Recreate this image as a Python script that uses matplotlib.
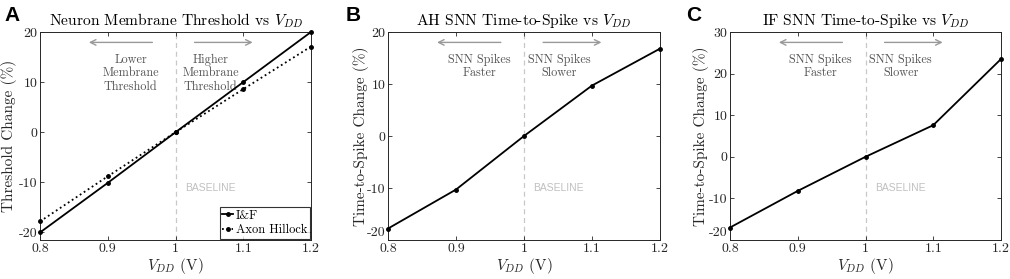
import matplotlib
matplotlib.use("Agg")
import matplotlib.pyplot as plt
from matplotlib.transforms import ScaledTranslation

plt.rcParams['font.family'] = ['cmr10', 'DejaVu Serif']
plt.rcParams['mathtext.fontset'] = 'cm'
plt.rcParams['axes.unicode_minus'] = False
plt.rcParams['axes.formatter.use_mathtext'] = False

vdd = [0.8, 0.9, 1.0, 1.1, 1.2]
thr_if = [-20.0, -10.1, 0.0, 10.0, 20.0]
thr_ah = [-17.8, -8.8, 0.0, 8.6, 17.1]
tts_ah = [-17.8, -10.3, 0.0, 9.7, 16.8]
tts_if = [-17.0, -8.2, 0.0, 7.6, 23.5]

xticks = [0.8, 0.9, 1.0, 1.1, 1.2]
xticklabels = ['0.8', '0.9', '1', '1.1', '1.2']

W, H = 1010, 279
fig = plt.figure(figsize=(W / 100, H / 100), dpi=100)

def make_ax(left_px, width_px):
    return fig.add_axes([left_px / W, (H - 240) / H, width_px / W, 208 / H])

axA = make_ax(40, 271)
axB = make_ax(388, 272)
axC = make_ax(730, 271)

edge = '#262626'
gray = '#999999'

def style(ax, ylim, yticks, title, ylabel, left_text, right_text, lpad, nudge=False):
    ax.set_xlim(0.8, 1.2)
    ax.set_ylim(*ylim)
    ax.set_xticks(xticks)
    ax.set_xticklabels(xticklabels)
    ax.set_yticks(yticks)
    ax.set_yticklabels([str(v) for v in yticks])
    ax.tick_params(direction='in', top=True, right=True, length=3,
                   width=0.6, colors=edge, labelsize=10, pad=2)
    if nudge:
        lab = ax.get_yticklabels()[0]
        lab.set_transform(lab.get_transform() +
                          ScaledTranslation(0, 6 / 72, fig.dpi_scale_trans))
    for s in ax.spines.values():
        s.set_color(edge)
        s.set_linewidth(0.7)
    ax.set_title(title, fontsize=11.2, pad=5)
    ax.set_ylabel(ylabel, fontsize=11, labelpad=lpad, color=edge)
    ax.set_xlabel(r'$V_{DD}$ (V)', fontsize=11, labelpad=1, color=edge)
    ax.axvline(1.0, color='#c8c8c8', linestyle=(0, (4, 3)), linewidth=0.9, zorder=0)
    ax.text(0.535, 0.25, 'BASELINE', transform=ax.transAxes, fontsize=7.5,
            color='#c0c0c0', family='Liberation Sans', ha='left', va='center')
    ax.annotate('', xy=(0.17, 0.95), xytext=(0.425, 0.95), xycoords='axes fraction',
                arrowprops=dict(arrowstyle='->', color=gray, lw=1.0,
                                mutation_scale=10))
    ax.annotate('', xy=(0.795, 0.95), xytext=(0.56, 0.95), xycoords='axes fraction',
                arrowprops=dict(arrowstyle='->', color=gray, lw=1.0,
                                mutation_scale=10))
    ax.text(0.335, 0.895, left_text, transform=ax.transAxes, fontsize=8.8,
            color='#555555', ha='center', va='top', linespacing=1.15)
    ax.text(0.63, 0.895, right_text, transform=ax.transAxes, fontsize=8.8,
            color='#555555', ha='center', va='top', linespacing=1.15)

style(axA, (-21.5, 20), [-20, -10, 0, 10, 20],
      r'Neuron Membrane Threshold vs $V_{DD}$', 'Threshold Change (%)',
      'Lower\nMembrane\nThreshold', 'Higher\nMembrane\nThreshold', 1.5)
style(axB, (-20, 20), [-20, -10, 0, 10, 20],
      r'AH SNN Time-to-Spike vs $V_{DD}$', 'Time-to-Spike Change (%)',
      'SNN Spikes\nFaster', 'SNN Spikes\nSlower', -1.5, nudge=True)
style(axC, (-20, 30), [-20, -10, 0, 10, 20, 30],
      r'IF SNN Time-to-Spike vs $V_{DD}$', 'Time-to-Spike Change (%)',
      'SNN Spikes\nFaster', 'SNN Spikes\nSlower', 0, nudge=True)

axA.plot(vdd, thr_if, '-', color='black', lw=1.3, marker='o', ms=2.5,
         label='I&F', clip_on=False, zorder=3)
axA.plot(vdd, thr_ah, ':', color='black', lw=1.3, marker='o', ms=2.5,
         label='Axon Hillock', clip_on=False, zorder=3)
leg = axA.legend(loc='lower right', fontsize=9, frameon=True, fancybox=False,
                 handlelength=0.9, handletextpad=0.2, borderpad=0.2,
                 labelspacing=0.2, borderaxespad=0.1)
leg.get_frame().set_edgecolor('black')
leg.get_frame().set_linewidth(0.8)

axB.plot(vdd, tts_ah, '-', color='black', lw=1.3, marker='o', ms=2.5,
         clip_on=False, zorder=3)
axC.plot(vdd, tts_if, '-', color='black', lw=1.3, marker='o', ms=2.5,
         clip_on=False, zorder=3)

for lbl, xpx in [('A', 4), ('B', 346), ('C', 686)]:
    fig.text(xpx / W, 1 - 6 / H, lbl, fontsize=15, fontweight='bold',
             family='Liberation Sans', ha='left', va='top')

fig.savefig('out.png', dpi=100)
